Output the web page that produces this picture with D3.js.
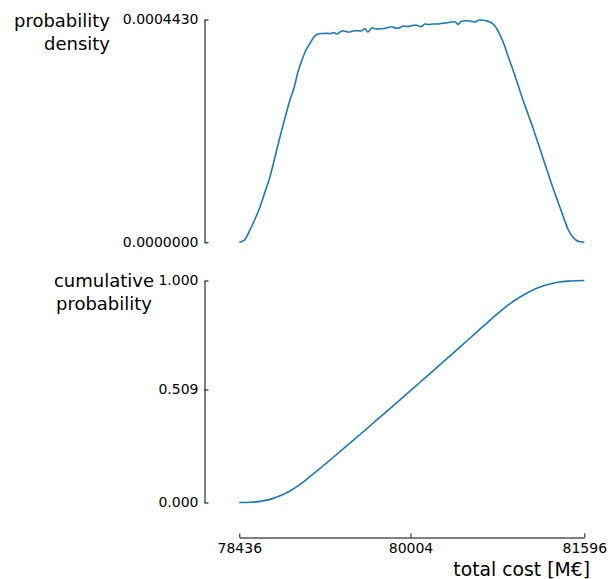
<!DOCTYPE html>
<html>
<head>
<meta charset="utf-8">
<script src="https://cdn.jsdelivr.net/npm/d3@7/dist/d3.min.js"></script>
<style>
body { margin: 0; background: #fff; }
svg { font-family: "DejaVu Sans", sans-serif; }
</style>
</head>
<body>
<div id="chart"></div>
<script>
// density curve
const costs = [78436, 78479, 78534, 78580, 78626, 78671, 78717, 78763, 78809, 78854,
    78900, 78937, 78973, 79010, 79047, 79083, 79120, 79157, 79193, 79239,
    79276, 79303, 79330, 79358, 79385, 79413, 79440, 79477, 79513, 79550,
    79587, 79614, 79651, 79687, 79724, 79761, 79797, 79834, 79871, 79907,
    79935, 79971, 80008, 80045, 80072, 80100, 80136, 80173, 80210, 80246,
    80283, 80320, 80366, 80411, 80439, 80467, 80503, 80549, 80595, 80631,
    80668, 80704, 80741, 80769, 80796, 80824, 80860, 80897, 80943, 80989,
    81034, 81080, 81126, 81172, 81217, 81263, 81309, 81355, 81401, 81446,
    81483, 81519, 81556, 81596]
const density = [0, 0.0000036, 0.0000245, 0.0000463, 0.0000708, 0.0001000, 0.0001304, 0.0001696, 0.0002099, 0.0002471,
    0.0002829, 0.0003068, 0.0003386, 0.0003624, 0.0003823, 0.0003957, 0.0004082, 0.0004141, 0.0004151, 0.0004155,
    0.0004151, 0.0004171, 0.0004141, 0.0004181, 0.0004207, 0.0004191, 0.0004177, 0.0004201, 0.0004207, 0.0004201,
    0.0004246, 0.0004181, 0.0004266, 0.0004241, 0.0004246, 0.0004251, 0.0004271, 0.0004286, 0.0004255, 0.0004265,
    0.0004300, 0.0004290, 0.0004300, 0.0004320, 0.0004310, 0.0004286, 0.0004340, 0.0004330, 0.0004340, 0.0004340,
    0.0004350, 0.0004360, 0.0004374, 0.0004386, 0.0004334, 0.0004390, 0.0004406, 0.0004400, 0.0004380, 0.0004420,
    0.0004414, 0.0004400, 0.0004370, 0.0004320, 0.0004241, 0.0004122, 0.0003943, 0.0003704, 0.0003426, 0.0003127,
    0.0002829, 0.0002551, 0.0002273, 0.0001974, 0.0001676, 0.0001378, 0.0001080, 0.0000801, 0.0000523, 0.0000264,
    0.0000125, 0.0000046, 0.0000010, 0]

// cumulative curve
const cdfCosts = [78436, 78534, 78626, 78717, 78809, 78900, 78973, 79047, 79120, 79193,
    79300, 79400, 79500, 79600, 79700, 79800, 79900, 80004, 80100, 80200,
    80300, 80400, 80500, 80600, 80700, 80769, 80824, 80897, 80989, 81080,
    81172, 81263, 81355, 81446, 81519, 81596]
const cdfValues = [0, 0.001, 0.005, 0.014, 0.030, 0.052, 0.075, 0.102, 0.131, 0.161,
    0.205, 0.247, 0.289, 0.331, 0.374, 0.416, 0.459, 0.504, 0.545, 0.588,
    0.632, 0.675, 0.719, 0.763, 0.807, 0.837, 0.860, 0.889, 0.920, 0.946,
    0.967, 0.982, 0.992, 0.997, 0.999, 1.000]

const xTicks = [78436, 80004, 81596]
const densityTicks = [0, 0.000443]
const cdfTicks = [0, 0.509, 1]

const width = 614, height = 579
const lineColor = "#1f77b4"

let svg = d3.select("#chart")
    .append("svg")
    .attr("width", width)
    .attr("height", height)

let x = d3.scaleLinear().domain([78436, 81596]).range([239.3, 584.3])
let yTop = d3.scaleLinear().domain([0, 0.000443]).range([242.3, 19.5])
let yBot = d3.scaleLinear().domain([0, 1]).range([502.5, 280.5])

function styleAxis(g) {
    g.attr("font-family", null).attr("font-size", null)
    g.selectAll("text").style("font-size", "14px").attr("fill", "#000")
    g.selectAll("path,line").attr("stroke", "#000").attr("stroke-width", 1)
}

// Y axes
svg.append("g")
    .attr("transform", "translate(204.5,0)")
    .call(d3.axisLeft(yTop).tickValues(densityTicks).tickFormat(d3.format(".7f"))
        .tickSizeInner(-4).tickSizeOuter(0).tickPadding(6))
    .call(styleAxis)

svg.append("g")
    .attr("transform", "translate(204.5,0)")
    .call(d3.axisLeft(yBot).tickValues(cdfTicks).tickFormat(d3.format(".3f"))
        .tickSizeInner(-4).tickSizeOuter(0).tickPadding(6))
    .call(styleAxis)

// X axis
svg.append("g")
    .attr("transform", "translate(0,537.5)")
    .call(d3.axisBottom(x).tickValues(xTicks).tickFormat(d3.format("d"))
        .tickSizeInner(-4).tickSizeOuter(0).tickPadding(6))
    .call(styleAxis)

// lines
svg.append("path")
    .datum(costs)
    .attr("fill", "none")
    .attr("stroke", lineColor)
    .attr("stroke-width", 1.6)
    .attr("d", d3.line()
        .x(function (d) { return x(d) })
        .y(function (d, i) { return yTop(density[i]) })
        .curve(d3.curveMonotoneX))

svg.append("path")
    .datum(cdfCosts)
    .attr("fill", "none")
    .attr("stroke", lineColor)
    .attr("stroke-width", 1.6)
    .attr("d", d3.line()
        .x(function (d) { return x(d) })
        .y(function (d, i) { return yBot(cdfValues[i]) })
        .curve(d3.curveMonotoneX))

// labels
let topLabel = svg.append("text")
    .attr("text-anchor", "end")
    .style("font-size", "18px")
topLabel.append("tspan").attr("x", 110).attr("y", 27).text("probability")
topLabel.append("tspan").attr("x", 110).attr("y", 49.5).text("density")

let botLabel = svg.append("text")
    .attr("text-anchor", "middle")
    .style("font-size", "18px")
botLabel.append("tspan").attr("x", 104).attr("y", 287).text("cumulative")
botLabel.append("tspan").attr("x", 104).attr("y", 309.5).text("probability")

svg.append("text")
    .attr("x", 590)
    .attr("y", 576)
    .attr("text-anchor", "end")
    .style("font-size", "18.8px")
    .text("total cost [M€]")
</script>
</body>
</html>
